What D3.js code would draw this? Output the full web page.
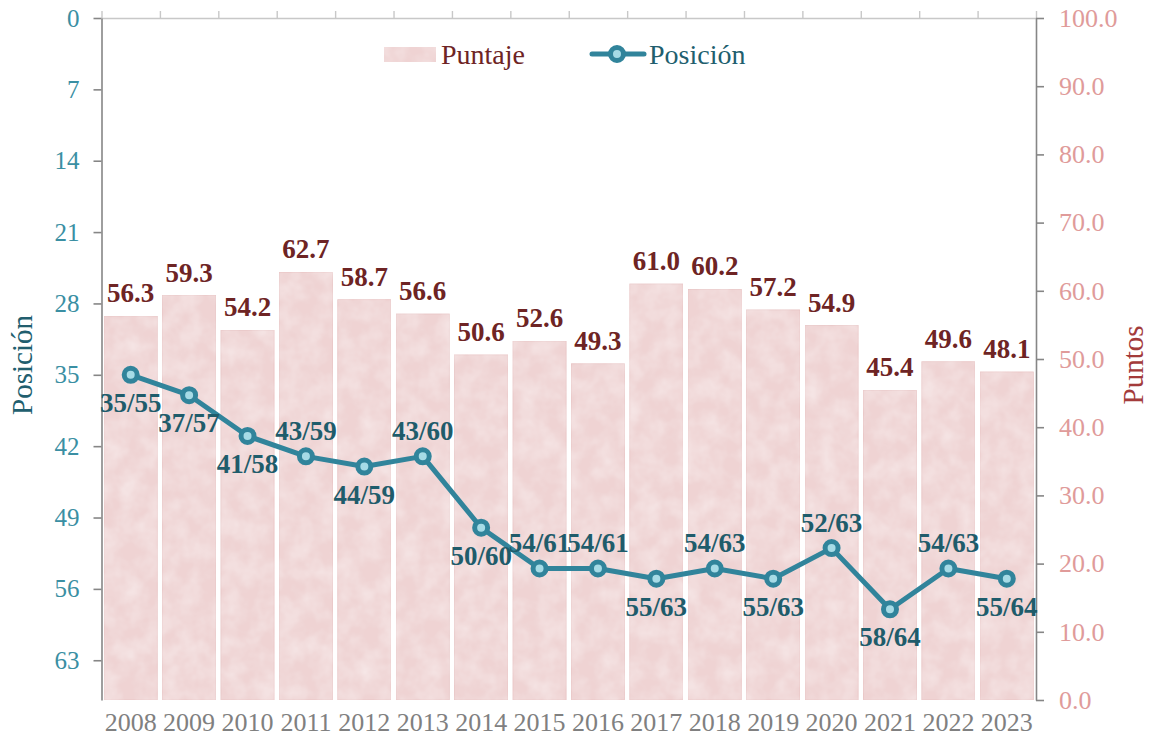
<!DOCTYPE html>
<meta charset="utf-8">
<style>
body { margin: 0; background: #fff; }
svg { font-family: "Liberation Serif", "Times New Roman", serif; }
.axis .domain { stroke: #868686; stroke-width: 1.6; }
.axis line { stroke: #868686; stroke-width: 1.6; }
.topaxis .domain, .topaxis line { stroke: #c8c8c8; stroke-width: 1.4; }
</style>
<body>
<svg width="1151" height="746"></svg>
<script src="https://d3js.org/d3.v7.min.js"></script>
<script>

// data
var years = ["2008","2009","2010","2011","2012","2013","2014","2015","2016","2017","2018","2019","2020","2021","2022","2023"];
var puntaje = [56.3, 59.3, 54.2, 62.7, 58.7, 56.6, 50.6, 52.6, 49.3, 61.0, 60.2, 57.2, 54.9, 45.4, 49.6, 48.1];
var posicion = [35, 37, 41, 43, 44, 43, 50, 54, 54, 55, 54, 55, 52, 58, 54, 55];
var total = [55, 57, 58, 59, 59, 60, 60, 61, 61, 63, 63, 63, 63, 64, 63, 64];
// where each rank label sits relative to its marker
var labelSide = ["below","below","below","above","below","above","below","above","above","below","above","below","above","below","above","below"];
var leftTicks = [0, 7, 14, 21, 28, 35, 42, 49, 56, 63];
var rightTicks = [0, 10, 20, 30, 40, 50, 60, 70, 80, 90, 100];

var svg = d3.select("svg");
// note: "top" is taken by window.top, so plot edges get their own names
var plotL = 101.5, plotR = 1036, plotT = 18, plotB = 700;

var x = d3.scaleBand()
    .domain(years)
    .range([plotL, plotR])
    .paddingInner(0.09)
    .paddingOuter(0.045);

var yR = d3.scaleLinear().domain([0, 100]).range([plotB, plotT]);
var yL = d3.scaleLinear().domain([0, 66.9]).range([plotT, plotB]);

// soft paper-like texture for the bars
var defs = svg.append("defs");
var f = defs.append("filter").attr("id", "tex").attr("x", 0).attr("y", 0).attr("width", 1).attr("height", 1);
f.append("feTurbulence").attr("type", "fractalNoise").attr("baseFrequency", 0.05).attr("numOctaves", 3).attr("seed", 4).attr("result", "n");
f.append("feColorMatrix").attr("in", "n").attr("type", "matrix")
  .attr("values", "0 0 0 0 1  0 0 0 0 1  0 0 0 0 1  0 0 0 -0.6 0.42").attr("result", "w");
f.append("feComposite").attr("in", "w").attr("in2", "SourceGraphic").attr("operator", "in").attr("result", "wc");
var fm = f.append("feMerge");
fm.append("feMergeNode").attr("in", "SourceGraphic");
fm.append("feMergeNode").attr("in", "wc");

// bars
svg.append("g").selectAll("rect")
  .data(puntaje)
  .join("rect")
    .attr("x", (d, i) => x(years[i]))
    .attr("y", d => yR(d))
    .attr("width", x.bandwidth())
    .attr("height", d => plotB - yR(d))
    .attr("fill", "#efd3d3")
    .attr("stroke", "#e8c3c3")
    .attr("stroke-width", 0.8)
    .attr("filter", "url(#tex)");

// bar labels
svg.append("g").selectAll("text")
  .data(puntaje)
  .join("text")
    .attr("x", (d, i) => x(years[i]) + x.bandwidth() / 2)
    .attr("y", d => yR(d) - 14)
    .attr("text-anchor", "middle")
    .attr("font-size", 27)
    .attr("font-weight", "bold")
    .attr("fill", "#6e2424")
    .text(d => d.toFixed(1));

// top category axis (boundary ticks)
var xi = d3.scaleLinear().domain([0, years.length]).range([plotL, plotR]);
svg.append("g")
    .attr("class", "topaxis")
    .attr("transform", "translate(0," + plotT + ")")
    .call(d3.axisTop(xi).tickValues(d3.range(0, years.length + 1)).tickSize(7).tickSizeOuter(0).tickFormat(""));

// left axis
var gl = svg.append("g")
    .attr("class", "axis")
    .attr("transform", "translate(" + plotL + ",0)")
    .call(d3.axisLeft(yL).tickValues(leftTicks).tickSize(8).tickSizeOuter(0).tickPadding(14));
gl.selectAll("text").attr("font-size", 25).attr("fill", "#3a8fa3").attr("font-family", "Liberation Serif");

// right axis
var gr = svg.append("g")
    .attr("class", "axis")
    .attr("transform", "translate(" + plotR + ",0)")
    .call(d3.axisRight(yR).tickValues(rightTicks).tickSize(8).tickSizeOuter(0).tickPadding(15).tickFormat(d3.format(".1f")));
gr.selectAll("text").attr("font-size", 26).attr("fill", "#e09b9a").attr("font-family", "Liberation Serif");

// year labels
var gb = svg.append("g")
    .attr("transform", "translate(0," + plotB + ")")
    .call(d3.axisBottom(x).tickSize(0).tickPadding(13));
gb.select(".domain").remove();
gb.selectAll("text").attr("font-size", 26).attr("fill", "#808080").attr("font-family", "Liberation Serif");

// position line
var cx = (d, i) => x(years[i]) + x.bandwidth() / 2;
svg.append("path")
    .datum(posicion)
    .attr("fill", "none")
    .attr("stroke", "#31849b")
    .attr("stroke-width", 5)
    .attr("stroke-linejoin", "round")
    .attr("d", d3.line().x(cx).y(d => yL(d)));

svg.append("g").selectAll("circle")
  .data(posicion)
  .join("circle")
    .attr("cx", cx)
    .attr("cy", d => yL(d))
    .attr("r", 6.5)
    .attr("fill", "#a6dbe6")
    .attr("stroke", "#31849b")
    .attr("stroke-width", 5);

svg.append("g").selectAll("text")
  .data(posicion)
  .join("text")
    .attr("x", cx)
    .attr("y", (d, i) => yL(d) + (labelSide[i] == "above" ? -16 : 37))
    .attr("text-anchor", "middle")
    .attr("font-size", 27)
    .attr("font-weight", "bold")
    .attr("fill", "#1f5c6b")
    .text((d, i) => d + "/" + total[i]);

// axis titles
svg.append("text")
    .attr("transform", "translate(32,365) rotate(-90)")
    .attr("text-anchor", "middle")
    .attr("font-size", 29)
    .attr("fill", "#215e6e")
    .text("Posición");
svg.append("text")
    .attr("transform", "translate(1143,365) rotate(-90)")
    .attr("text-anchor", "middle")
    .attr("font-size", 29)
    .attr("fill", "#a33b3b")
    .text("Puntos");

// legend
var lg = svg.append("g");
lg.append("rect")
    .attr("x", 384).attr("y", 47).attr("width", 52).attr("height", 15)
    .attr("fill", "#efd3d3").attr("filter", "url(#tex)");
lg.append("text")
    .attr("x", 441).attr("y", 64)
    .attr("font-size", 28).attr("fill", "#6e2424")
    .text("Puntaje");
lg.append("line")
    .attr("x1", 592).attr("x2", 644).attr("y1", 54).attr("y2", 54)
    .attr("stroke", "#31849b").attr("stroke-width", 5).attr("stroke-linecap", "round");
lg.append("circle")
    .attr("cx", 617).attr("cy", 54).attr("r", 6.5)
    .attr("fill", "#a6dbe6").attr("stroke", "#31849b").attr("stroke-width", 5);
lg.append("text")
    .attr("x", 649).attr("y", 64)
    .attr("font-size", 28).attr("fill", "#215e6e")
    .text("Posición");

</script>
